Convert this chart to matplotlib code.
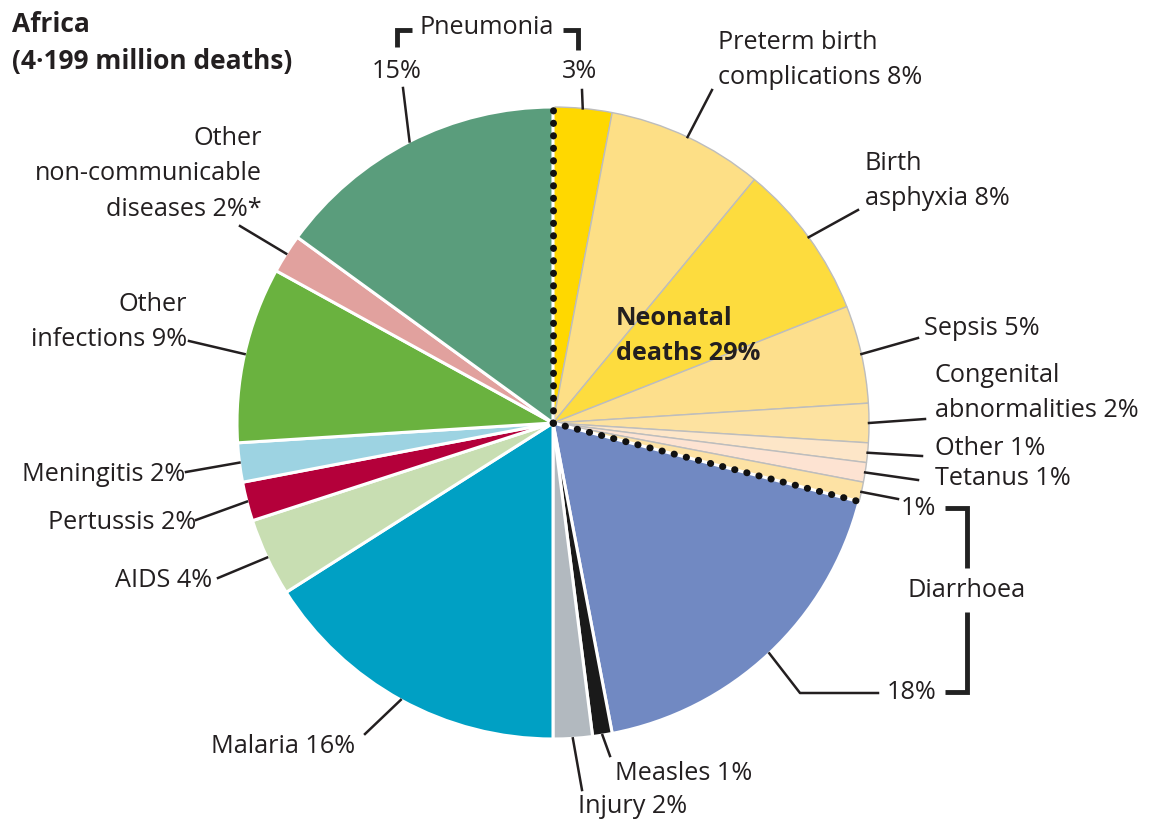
import matplotlib.pyplot as plt
import numpy as np

plt.rcParams['font.family'] = ['Open Sans', 'DejaVu Sans']

# slices clockwise from 12 o'clock
causes = ['Pneumonia (neonatal)', 'Preterm birth complications', 'Birth asphyxia', 'Sepsis',
          'Congenital abnormalities', 'Other', 'Tetanus', 'Diarrhoea (neonatal)',
          'Diarrhoea', 'Measles', 'Injury', 'Malaria', 'AIDS', 'Pertussis', 'Meningitis',
          'Other infections', 'Other non-communicable diseases', 'Pneumonia']
shares = [3, 8, 8, 5, 2, 1, 1, 1, 18, 1, 2, 16, 4, 2, 2, 9, 2, 15]
colors = ['#FFD800', '#FDDF86', '#FDDC3E', '#FDDF8C', '#FDE2A0', '#FDE6C8', '#FDE3D2', '#FDE2A4',
          '#7189C2', '#1A1A1A', '#B2B9BF', '#00A0C4', '#C8DEB2', '#B4003A', '#9DD3E2',
          '#6AB23F', '#E1A19E', '#5A9D7C']
neonatal = [True] * 8 + [False] * 10

W, H = 1151, 822
fig = plt.figure(figsize=(W / 100, H / 100), dpi=100)
ax = fig.add_axes([0, 0, 1, 1])

cx, cy, R = 553, 423, 316
txt = '#231F20'
fs = 18.2
ls = 1.55

# y axis is inverted below, so counterclock=True runs clockwise on screen
wedges, _ = ax.pie(shares, colors=colors, startangle=-90, counterclock=True,
                   center=(cx, cy), radius=R, frame=True)
ax.set_xlim(0, W)
ax.set_ylim(H, 0)
ax.axis('off')
for w, neo in zip(wedges, neonatal):
    if neo:
        w.set_edgecolor('#BDBDBD')
        w.set_linewidth(1.0)
    else:
        w.set_edgecolor('white')
        w.set_linewidth(2.2)


def edge_point(w, r=1.0):
    a = np.deg2rad((w.theta1 + w.theta2) / 2)
    return cx + R * r * np.cos(a), cy + R * r * np.sin(a)


def boundary(angle_deg):
    a = np.deg2rad(angle_deg)
    return cx + R * np.cos(a), cy + R * np.sin(a)


# dotted neonatal boundaries
for ang in [wedges[0].theta1, wedges[7].theta2]:
    ex, ey = boundary(ang)
    ax.plot([cx, ex], [cy, ey], color='#111111', lw=5.0, ls=(0, (0.05, 1.75)),
            dash_capstyle='round', zorder=5)

# label: (index, text, text x, text y, ha, line end x, line end y)
labels = [
    (1, 'Preterm birth\ncomplications 8%', 718, 60, 'left', 712, 90),
    (2, 'Birth\nasphyxia 8%', 865, 181, 'left', 858, 210),
    (3, 'Sepsis 5%', 924, 328, 'left', 918, 338),
    (4, 'Congenital\nabnormalities 2%', 935, 393, 'left', 925, 419),
    (5, 'Other 1%', 935, 448, 'left', 922, 456),
    (6, 'Tetanus 1%', 935, 478, 'left', 918, 480),
    (7, '1%', 918, 508, 'center', 898, 499),
    (9, 'Measles 1%', 615, 773, 'left', 610, 756),
    (10, 'Injury 2%', 578, 806, 'left', 582, 790),
    (11, 'Malaria 16%', 355, 746, 'right', 365, 734),
    (12, 'AIDS 4%', 212, 580, 'right', 218, 578),
    (13, 'Pertussis 2%', 196, 522, 'right', 196, 520),
    (14, 'Meningitis 2%', 185, 474, 'right', 186, 472),
    (15, 'Other\ninfections 9%', 187, 322, 'right', 189, 341),
    (16, 'Other\nnon-communicable\ndiseases 2%*', 262, 174, 'right', 240, 226),
    (17, '15%', 397, 72, 'center', 403, 88),
    (0, '3%', 580, 72, 'center', 582, 90),
]
for i, t, tx, ty, ha, lx, ly in labels:
    ax.text(tx, ty, t, ha=ha, va='center', fontsize=fs, color=txt, linespacing=ls)
    px, py = edge_point(wedges[i])
    ax.plot([px, lx], [py, ly], color=txt, lw=1.8, zorder=6)

# diarrhoea 18% with knee
px, py = edge_point(wedges[8])
ax.plot([px, 800, 878], [py, 693, 693], color=txt, lw=1.8, zorder=6)
ax.text(912, 692, '18%', ha='center', va='center', fontsize=fs, color=txt)

# brackets
bk = dict(color='#222222', lw=3.5, solid_capstyle='butt', solid_joinstyle='miter')
ax.plot([397, 397, 412], [47, 30, 30], **bk)
ax.plot([563, 578, 578], [30, 30, 50], **bk)
ax.text(487, 28, 'Pneumonia', ha='center', va='center', fontsize=fs, color=txt)
ax.plot([945, 967, 967], [508, 508, 568], **bk)
ax.plot([967, 967, 945], [612, 692, 692], **bk)
ax.text(967, 590, 'Diarrhoea', ha='center', va='center', fontsize=fs, color=txt)

ax.text(616, 336, 'Neonatal\ndeaths 29%', ha='left', va='center', fontsize=fs,
        fontweight='bold', color=txt, linespacing=ls)
ax.text(12, 43, 'Africa\n(4·199 million deaths)', ha='left', va='center', fontsize=19,
        fontweight='bold', color=txt, linespacing=1.5)

fig.savefig('out.png', dpi=100)
